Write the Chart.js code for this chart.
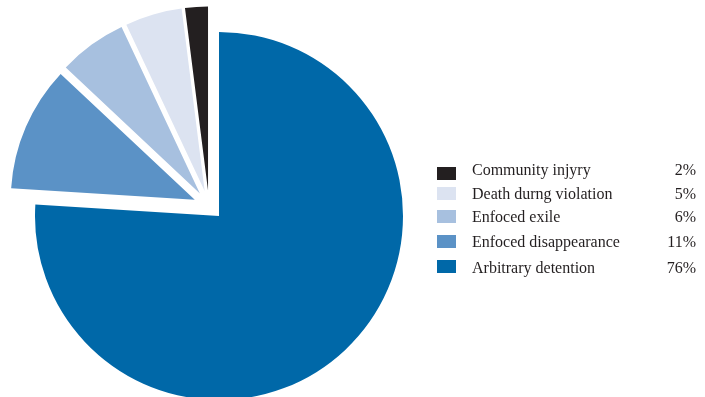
<!DOCTYPE html>
<html>
<head>
<meta charset="utf-8">
<script src="https://cdn.jsdelivr.net/npm/chart.js@4.4.1/dist/chart.umd.min.js"></script>
<style>
  html, body { margin: 0; padding: 0; background: #fff; overflow: hidden; width: 705px; height: 397px; }
  #grafico { position: absolute; left: 0; top: 0; }
  #leyenda { font-family: "Liberation Serif", "Times New Roman", serif; font-size: 16px; line-height: 16px; color: #231f20; }
  .cuadro { position: absolute; left: 437px; width: 19px; height: 12.5px; }
  .texto { position: absolute; left: 472px; white-space: nowrap; }
  .pct { position: absolute; right: 9px; white-space: nowrap; }
</style>
</head>
<body>
<canvas id="grafico" width="705" height="420"></canvas>
<div id="leyenda"></div>
<script>
// datos del gráfico (sentido de las agujas del reloj, desde arriba)
var categorias = ['Arbitrary detention', 'Enfoced disappearance', 'Enfoced exile', 'Death durng violation', 'Community injyry'];
var valores = [76, 11, 6, 5, 2];
var colores = ['#0068a8', '#5b92c6', '#a7c0df', '#dce3f1', '#231f20'];

// separación de las porciones pequeñas: cada una sobre su bisectriz + el grupo entero
var separacionPorcion = 15.5;
var desplazamientoGrupo = { x: -10, y: -10 };

// plugin que separa las porciones pequeñas
var separarPorciones = {
  id: 'separarPorciones',
  afterDatasetUpdate: function (chart) {
    var meta = chart.getDatasetMeta(0);
    meta.data.forEach(function (arco, i) {
      if (i === 0) return;
      var mitad = (arco.startAngle + arco.endAngle) / 2;
      arco.x += desplazamientoGrupo.x + Math.cos(mitad) * separacionPorcion;
      arco.y += desplazamientoGrupo.y + Math.sin(mitad) * separacionPorcion;
    });
  }
};

var ctx = document.getElementById('grafico').getContext('2d');
var grafico = new Chart(ctx, {
  type: 'pie',
  data: {
    labels: categorias,
    datasets: [{
      data: valores,
      backgroundColor: colores,
      borderWidth: 0,
      clip: false
    }]
  },
  options: {
    responsive: false,
    animation: false,
    layout: {
      padding: { left: 35, top: 32, right: 302, bottom: 20 }
    },
    plugins: {
      legend: { display: false },
      tooltip: { enabled: false }
    }
  },
  plugins: [separarPorciones]
});

// leyenda (orden inverso)
var topesCuadros = [167, 187, 210, 235, 260];
var lineasBase = [175, 199, 222, 247, 273];
var leyenda = document.getElementById('leyenda');
for (var i = categorias.length - 1, fila = 0; i >= 0; i--, fila++) {
  var cuadro = document.createElement('div');
  cuadro.className = 'cuadro';
  cuadro.style.top = topesCuadros[fila] + 'px';
  cuadro.style.background = colores[i];
  leyenda.appendChild(cuadro);

  var texto = document.createElement('span');
  texto.className = 'texto';
  texto.style.top = (lineasBase[fila] - 13.4) + 'px';
  texto.textContent = categorias[i];
  leyenda.appendChild(texto);

  var pct = document.createElement('span');
  pct.className = 'pct';
  pct.style.top = (lineasBase[fila] - 13.4) + 'px';
  pct.textContent = valores[i] + '%';
  leyenda.appendChild(pct);
}
</script>
</body>
</html>
